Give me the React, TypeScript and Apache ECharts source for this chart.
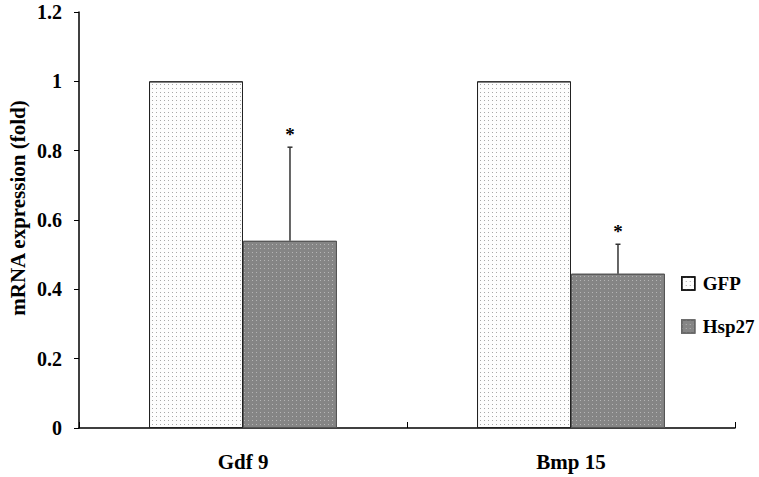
import React, { useEffect, useRef } from "react";
import * as echarts from "echarts";

const categories = ["Gdf 9", "Bmp 15"];
const gfpValues = [1, 1];
const hsp27Values = [0.54, 0.445];
const hsp27Errors = [0.27, 0.085];
const yTicks = { min: 0, max: 1.2, interval: 0.2 };
const yTitle = "mRNA expression (fold)";

const FONT = "'Liberation Serif', 'Times New Roman', serif";
const BAR_GAP_CAT = "42.7%";

const gfpDecal = {
  symbol: "rect",
  symbolSize: 1,
  dashArrayX: [1, 3],
  dashArrayY: [1, 3],
  color: "#a8a8a8",
};
const hspDecal = {
  symbol: "rect",
  symbolSize: 1,
  dashArrayX: [1, 3],
  dashArrayY: [1, 3],
  color: "#b5b5b5",
};

export default function App() {
  const ref = useRef<HTMLDivElement>(null);
  useEffect(() => {
    const chart = echarts.init(ref.current!, null, { renderer: "svg" });
    const errData = categories.map((c, i) => [i, hsp27Values[i], hsp27Errors[i]]);
    chart.setOption({
      animation: false,
      backgroundColor: "#fff",
      grid: { left: 79, right: 24, top: 12, bottom: 49 },
      graphic: [
        {
          type: "text",
          x: 17.5,
          y: 208,
          rotation: Math.PI / 2,
          style: {
            text: yTitle,
            align: "center",
            verticalAlign: "middle",
            font: `bold 21px ${FONT}`,
            fill: "#000",
          },
        },
      ],
      legend: {
        orient: "vertical",
        left: 676,
        top: 269,
        icon: "rect",
        itemWidth: 13,
        itemHeight: 13,
        itemGap: 24,
        textStyle: { fontFamily: FONT, fontWeight: "bold", fontSize: 19, color: "#000", padding: [0, 0, 0, 3] },
        data: [
          { name: "GFP", itemStyle: { color: "#fdfdfd", borderColor: "#111", borderWidth: 1.5, decal: gfpDecal } },
          { name: "Hsp27", itemStyle: { color: "#858585", borderColor: "#666", borderWidth: 1.5, decal: hspDecal } },
        ],
      },
      xAxis: {
        type: "category",
        data: categories,
        axisLine: { lineStyle: { color: "#000", width: 1.5 } },
        axisTick: { show: true, inside: true, length: 6, lineStyle: { color: "#000" } },
        axisLabel: { fontFamily: FONT, fontWeight: "bold", fontSize: 21, color: "#000", margin: 23 },
      },
      yAxis: {
        type: "value",
        min: yTicks.min,
        max: yTicks.max,
        interval: yTicks.interval,
        axisLine: { show: true, lineStyle: { color: "#000", width: 1.5 } },
        axisTick: { show: true, length: 5, lineStyle: { color: "#000" } },
        splitLine: { show: false },
        axisLabel: {
          fontFamily: FONT,
          fontWeight: "bold",
          fontSize: 20,
          color: "#000",
          margin: 17,
          formatter: (v: number) => String(Math.round(v * 10) / 10),
        },
      },
      series: [
        {
          name: "GFP",
          type: "bar",
          data: gfpValues,
          barGap: 0,
          barCategoryGap: BAR_GAP_CAT,
          itemStyle: {
            color: "#fdfdfd",
            borderColor: "#222",
            borderWidth: 1,
            decal: gfpDecal,
          },
        },
        {
          name: "Hsp27",
          type: "bar",
          data: hsp27Values,
          barGap: 0,
          barCategoryGap: BAR_GAP_CAT,
          itemStyle: {
            color: "#858585",
            borderColor: "#555",
            borderWidth: 1,
            decal: hspDecal,
          },
        },
        {
          name: "err",
          type: "custom",
          data: errData,
          z: 10,
          renderItem: (params: any, api: any) => {
            const idx = api.value(0);
            const v = api.value(1);
            const e = api.value(2);
            const catW = api.size([1, 0])[0];
            const barW = (catW * (1 - 0.427)) / 2;
            const base = api.coord([idx, v]);
            const top = api.coord([idx, v + e]);
            const x = base[0] + barW / 2;
            return {
              type: "group",
              children: [
                { type: "line", shape: { x1: x, y1: base[1], x2: x, y2: top[1] }, style: { stroke: "#333", lineWidth: 1.5 } },
                { type: "line", shape: { x1: x - 2.5, y1: top[1], x2: x + 2.5, y2: top[1] }, style: { stroke: "#333", lineWidth: 1.5 } },
                {
                  type: "text",
                  style: {
                    text: "*",
                    x: x,
                    y: top[1] - 3,
                    align: "center",
                    verticalAlign: "bottom",
                    font: `bold 19px ${FONT}`,
                    fill: "#000",
                  },
                },
              ],
            };
          },
        },
      ],
    });
    return () => chart.dispose();
  }, []);
  return <div ref={ref} style={{ width: 759, height: 477, position: "absolute", left: 0, top: 0 }} />;
}
